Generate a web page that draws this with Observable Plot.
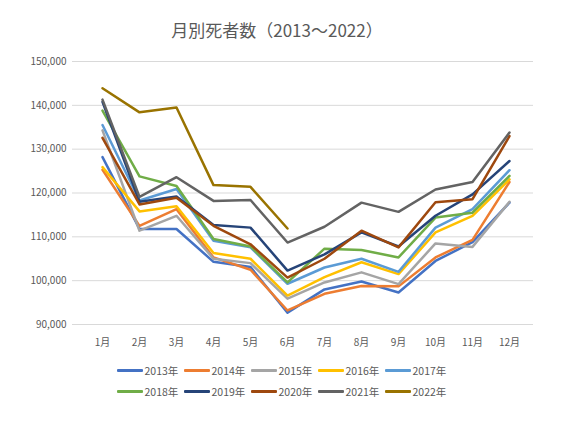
<!DOCTYPE html>
<html>
<head>
<meta charset="utf-8">
<script src="https://cdn.jsdelivr.net/npm/d3@7"></script>
<script src="https://cdn.jsdelivr.net/npm/@observablehq/plot@0.6"></script>
<style>
  body { margin: 0; background: #fff; font-family: "Noto Sans CJK JP", "Noto Sans", sans-serif; color: #595959; }
  #wrap { position: relative; width: 568px; height: 423px; }
  #title { position: absolute; left: 0; top: 19px; width: 554px; text-align: center; font-size: 17px; line-height: 22px; color: #595959; }
  #chart { position: absolute; left: 0; top: 48px; }
  #legend { position: absolute; left: 0; top: 360px; width: 568px; }
  .row { display: flex; justify-content: center; height: 21px; align-items: center; }
  .item { display: flex; align-items: center; width: 67px; font-size: 10.5px; }
  .sw { width: 26px; height: 3px; margin-right: 2px; border-radius: 1px; }
</style>
</head>
<body>
<div id="wrap">
  <div id="title">月別死者数（2013～2022）</div>
  <div id="chart"></div>
  <div id="legend"></div>
</div>
<script>
const months = ["1月","2月","3月","4月","5月","6月","7月","8月","9月","10月","11月","12月"];
const years = ["2013年","2014年","2015年","2016年","2017年","2018年","2019年","2020年","2021年","2022年"];
const colors = ["#4472C4","#ED7D31","#A5A5A5","#FFC000","#5B9BD5","#70AD47","#264478","#9E480E","#636363","#997300"];
const yTicks = [90000,100000,110000,120000,130000,140000,150000];

const y2013 = [128200,111800,111800,104300,103100, 92700, 98000, 99800, 97300,104500,108800,117800];
const y2014 = [125300,112500,116300,105300,102500, 93200, 97000, 98800, 98700,105300,109300,122500];
const y2015 = [134300,111400,114800,105000,104000, 95900, 99600,101900, 99200,108500,107700,118000];
const y2016 = [125900,115800,117000,106300,105000, 96600,100800,104200,101500,111000,114800,123100];
const y2017 = [135500,118300,120900,109100,107600, 99300,103000,105000,102000,112100,116300,125200];
const y2018 = [138800,123800,121600,109500,107800, 99600,107300,107000,105300,114400,115500,123900];
const y2019 = [140800,118000,119200,112700,112100,102300,106000,111000,107800,114800,119700,127300];
const y2020 = [132600,117400,118900,112500,108300,100700,105000,111400,107600,117900,118600,133000];
const y2021 = [141300,119100,123600,118200,118400,108700,112300,117800,115700,120800,122500,133800];
const y2022 = [143900,138400,139500,121800,121400,111900,null,null,null,null,null,null];

const series = [y2013,y2014,y2015,y2016,y2017,y2018,y2019,y2020,y2021,y2022];
const data = years.flatMap((yr, i) =>
  series[i].map((v, j) => ({year: yr, month: months[j], value: v})).filter(d => d.value != null));

const chart = Plot.plot({
  width: 568,
  height: 305,
  marginTop: 13,
  marginBottom: 29,
  marginLeft: 78,
  marginRight: 35,
  style: {fontFamily: '"Noto Sans CJK JP", "Noto Sans", sans-serif', fontSize: "10px", color: "#595959", background: "transparent"},
  x: {type: "point", domain: months, padding: 0.5, label: null, tickSize: 0, tickPadding: 14},
  y: {domain: [90000, 150000], ticks: yTicks, tickFormat: d3.format(","), label: null, tickSize: 0, tickPadding: 12},
  color: {domain: years, range: colors},
  marks: [
    Plot.ruleY(yTicks, {stroke: "#d9d9d9", strokeWidth: 1, insetLeft: -6}),
    Plot.lineY(data, {x: "month", y: "value", z: "year", stroke: "year", strokeWidth: 2.5, strokeLinejoin: "round"})
  ]
});
document.getElementById("chart").appendChild(chart);

const legend = document.getElementById("legend");
[years.slice(0,5), years.slice(5)].forEach((rowYears, r) => {
  const row = document.createElement("div");
  row.className = "row";
  rowYears.forEach((yr, k) => {
    const idx = r * 5 + k;
    const item = document.createElement("div");
    item.className = "item";
    const sw = document.createElement("div");
    sw.className = "sw";
    sw.style.background = colors[idx];
    const lab = document.createElement("span");
    lab.textContent = yr;
    item.appendChild(sw);
    item.appendChild(lab);
    row.appendChild(item);
  });
  legend.appendChild(row);
});
</script>
</body>
</html>
